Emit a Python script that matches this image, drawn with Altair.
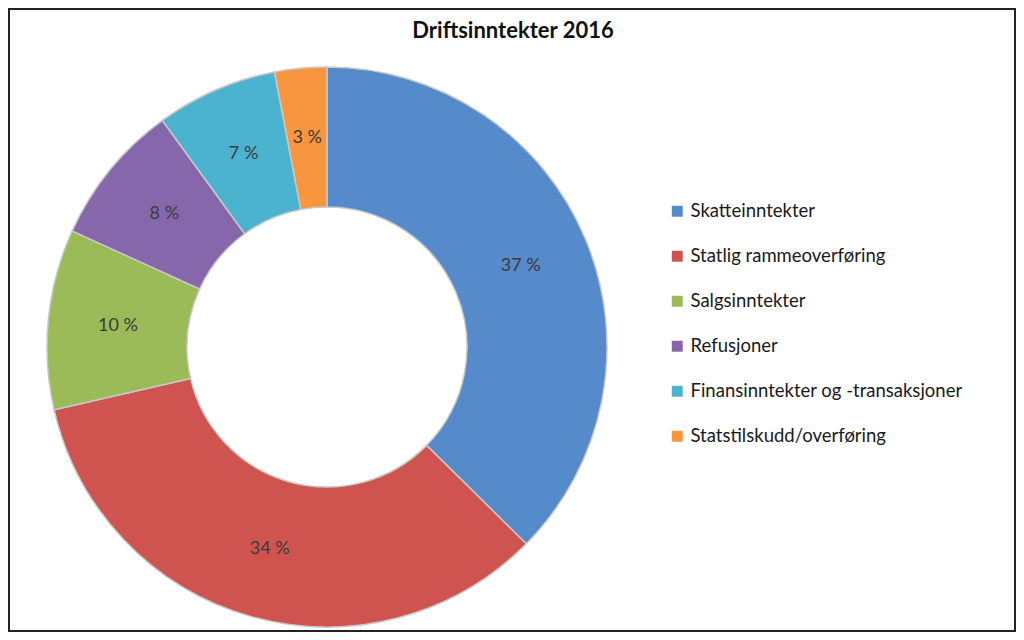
import altair as alt
import pandas as pd

categories = ["Skatteinntekter", "Statlig rammeoverføring", "Salgsinntekter",
              "Refusjoner", "Finansinntekter og -transaksjoner", "Statstilskudd/overføring"]
values = [37.4, 34.0, 10.4, 8.2, 7.0, 3.0]
labels = ["37 %", "34 %", "10 %", "8 %", "7 %", "3 %"]
colors = ["#558ACB", "#CF5450", "#9BBB59", "#8767AC", "#4BB3D0", "#F7963F"]
title_text = "Driftsinntekter 2016"

df = pd.DataFrame({"kategori": categories, "verdi": values, "etikett": labels,
                   "rekkefolge": list(range(len(categories)))})

FONT = "Lato"
CX, CY = 318, 338

base = alt.Chart(df).encode(
    theta=alt.Theta("verdi:Q", stack=True),
    order=alt.Order("rekkefolge:Q"),
)

arcs = base.mark_arc(outerRadius=280, innerRadius=140, stroke="#c8c8c8", strokeWidth=1.5).encode(
    x=alt.value(CX), y=alt.value(CY),
    color=alt.Color("kategori:N",
                    scale=alt.Scale(domain=categories, range=colors),
                    legend=alt.Legend(title=None, orient="none", legendX=659, legendY=193,
                                      symbolType="square", symbolSize=120, symbolStrokeWidth=0,
                                      labelFontSize=18.5, labelFont=FONT, labelColor="#1a1a1a",
                                      labelOffset=4, rowPadding=26, labelLimit=400)),
)

texts = base.mark_text(radius=210, font=FONT, fontSize=18, color="#3a3a3a").encode(
    x=alt.value(CX), y=alt.value(CY),
    text="etikett:N",
)

title = alt.Chart(pd.DataFrame({"t": [title_text]})).mark_text(
    font=FONT, fontSize=22, fontWeight="bold", color="#111111", align="center", baseline="middle"
).encode(x=alt.value(504), y=alt.value(22), text="t:N")

chart = alt.layer(arcs, texts, title).properties(
    width=1006, height=622, padding=1,
    autosize=alt.AutoSizeParams(type="none"),
    background="white",
).configure_view(stroke="#222222", strokeWidth=2)

chart.save("out.html", embed_options={"renderer": "svg", "actions": False})
